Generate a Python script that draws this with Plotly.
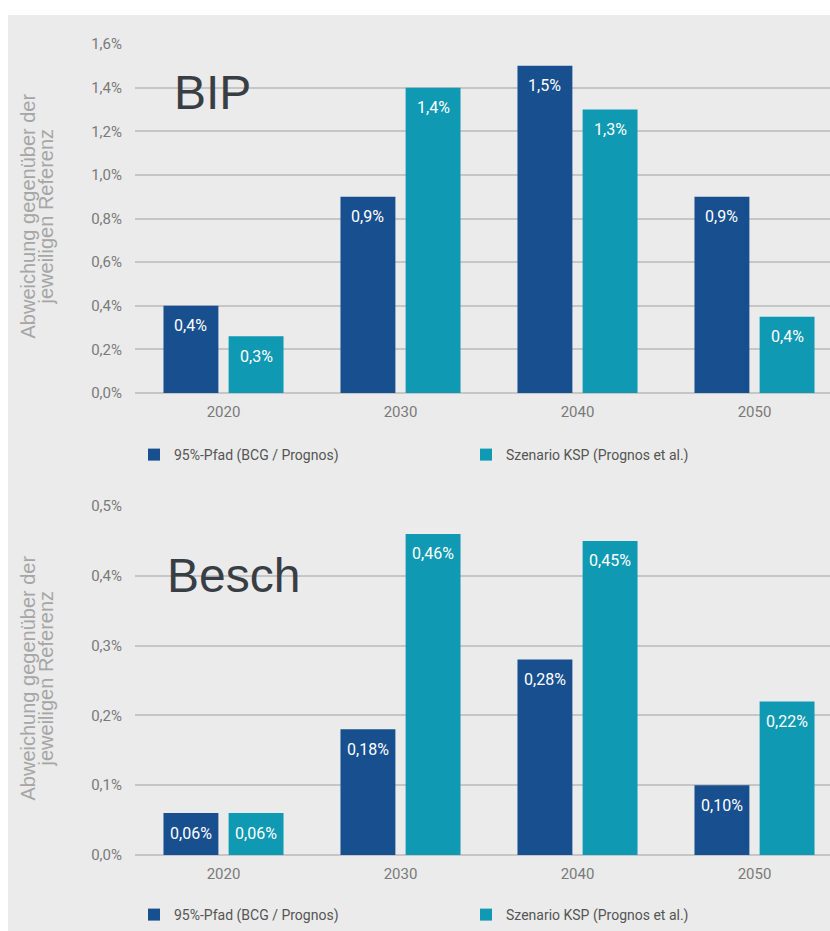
import plotly.graph_objects as go
from decimal import Decimal, ROUND_HALF_UP

# --- data -------------------------------------------------------------
years = ["2020", "2030", "2040", "2050"]
series_names = ["95%-Pfad (BCG / Prognos)", "Szenario KSP (Prognos et al.)"]

bip_pfad = [0.40, 0.90, 1.50, 0.90]
bip_ksp = [0.26, 1.40, 1.30, 0.35]

besch_pfad = [0.06, 0.18, 0.28, 0.10]
besch_ksp = [0.06, 0.46, 0.45, 0.22]

bip_ticks = [0.0, 0.2, 0.4, 0.6, 0.8, 1.0, 1.2, 1.4, 1.6]
besch_ticks = [0.0, 0.1, 0.2, 0.3, 0.4, 0.5]

panel_titles = ["BIP", "Besch"]
y_title_lines = ["Abweichung gegenüber der", "jeweiligen Referenz"]

# --- styling ----------------------------------------------------------
W, H = 830, 931
C_PFAD = "#184f8f"
C_KSP = "#0f99b3"
GRID = "#c6c6c6"
PANEL = "#ebebeb"
NARROW = "Liberation Sans Narrow, Roboto, sans-serif"
TICK_FONT = dict(family=NARROW, size=15, color="#7a7a7a")
LBL_FONT = dict(family=NARROW, size=16, color="white")
LEG_FONT = dict(family=NARROW, size=14, color="#555555")
YT_FONT = dict(family="Liberation Sans, Arial, sans-serif", size=20, color="#a6a6a6")
HEAD_FONT = dict(family="Liberation Sans, Arial, sans-serif", size=48, color="#383e44")


def px_x(x):
    return x / W


def px_y(y):
    return 1 - y / H


def fmt(v, digits):
    q = Decimal(1).scaleb(-digits)
    s = str(Decimal(str(v)).quantize(q, rounding=ROUND_HALF_UP))
    return s.replace(".", ",") + "%"


fig = go.Figure()

panels = [
    dict(pfad=bip_pfad, ksp=bip_ksp, ticks=bip_ticks, digits=1, xa="x", ya="y", leg="legend",
         top=44, bottom=393, head=panel_titles[0], head_x=172, head_y=93),
    dict(pfad=besch_pfad, ksp=besch_ksp, ticks=besch_ticks, digits=2, xa="x2", ya="y2", leg="legend2",
         top=506, bottom=855, head=panel_titles[1], head_x=165, head_y=575),
]

offset = 0.184
annotations = []
for p in panels:
    for name, vals, col, sign in [
        (series_names[0], p["pfad"], C_PFAD, -1),
        (series_names[1], p["ksp"], C_KSP, 1),
    ]:
        fig.add_trace(go.Bar(
            x=years, y=vals, name=name, marker=dict(color=col, line=dict(width=0)),
            xaxis=p["xa"], yaxis=p["ya"], legend=p["leg"], hoverinfo="skip",
        ))
        for i, v in enumerate(vals):
            annotations.append(dict(
                x=i + sign * offset, y=v, xref=p["xa"], yref=p["ya"],
                text=fmt(v, p["digits"]), showarrow=False, yshift=-20,
                font=LBL_FONT, xanchor="center", yanchor="middle",
            ))
    # panel heading
    annotations.append(dict(x=px_x(p["head_x"]), y=px_y(p["head_y"]), xref="paper", yref="paper",
                            text=p["head"], showarrow=False, xanchor="left", yanchor="middle",
                            font=HEAD_FONT))
    # rotated y-axis caption, two lines
    mid = (p["top"] + p["bottom"]) / 2 - 2
    for line, xc in zip(y_title_lines, [27, 45]):
        annotations.append(dict(x=px_x(xc), y=px_y(mid), xref="paper", yref="paper", text=line,
                                textangle=-90, showarrow=False, xanchor="center", yanchor="middle",
                                font=YT_FONT))

x_dom = [px_x(135), 1.0]
x_range = [-0.5, -0.5 + (W - 135) / 177.0]

axis_common_x = dict(
    type="category", range=x_range, showgrid=False, zeroline=False, showline=False,
    ticks="", tickfont=TICK_FONT, fixedrange=True, automargin=False, ticklabelstandoff=8,
)


def y_axis(ticks, top, bottom):
    return dict(
        domain=[px_y(bottom), px_y(top)], range=[ticks[0], ticks[-1]], tickvals=ticks,
        ticktext=[f"{t:.1f}".replace(".", ",") + "%" for t in ticks],
        showgrid=True, gridcolor=GRID, gridwidth=1.5, zeroline=True, zerolinecolor=GRID,
        zerolinewidth=1.5, showline=False, ticks="", tickfont=TICK_FONT, ticklabelstandoff=12,
        automargin=False, fixedrange=True,
    )


fig.update_layout(
    template="none",
    width=W, height=H,
    margin=dict(l=0, r=0, t=0, b=0, pad=0),
    paper_bgcolor="white", plot_bgcolor="rgba(0,0,0,0)",
    separators=",.",
    barmode="group", bargap=0.264, bargroupgap=0.157,
    xaxis=dict(domain=x_dom, anchor="y", **axis_common_x),
    yaxis=y_axis(bip_ticks, panels[0]["top"], panels[0]["bottom"]),
    xaxis2=dict(domain=x_dom, anchor="y2", **axis_common_x),
    yaxis2=y_axis(besch_ticks, panels[1]["top"], panels[1]["bottom"]),
    legend=dict(orientation="h", x=px_x(134), y=px_y(455), xanchor="left", yanchor="middle",
                font=LEG_FONT, bgcolor="rgba(0,0,0,0)", entrywidth=287, itemwidth=30),
    legend2=dict(orientation="h", x=px_x(134), y=px_y(915), xanchor="left", yanchor="middle",
                 font=LEG_FONT, bgcolor="rgba(0,0,0,0)", entrywidth=287, itemwidth=30),
    annotations=annotations,
    shapes=[dict(type="rect", xref="paper", yref="paper", x0=px_x(8), x1=1.0, y0=0.0, y1=px_y(15),
                 fillcolor=PANEL, line=dict(width=0), layer="below")],
    showlegend=True,
)

fig.write_html("out.html")
